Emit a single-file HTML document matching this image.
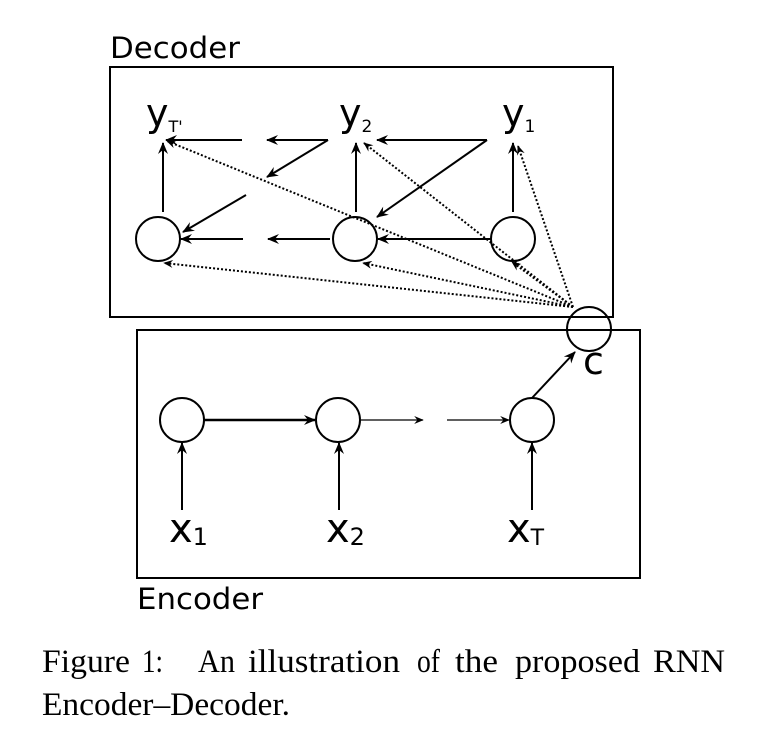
<!DOCTYPE html>
<html><head><meta charset="utf-8"><style>
html,body{margin:0;padding:0;background:#fff}
svg{display:block}
text{font-family:"DejaVu Sans","Liberation Sans",sans-serif;fill:#000}
.cap{font-family:"Liberation Serif",serif}
</style></head><body>
<svg width="762" height="742" viewBox="0 0 762 742" xmlns="http://www.w3.org/2000/svg">
<defs>
<marker id="ah" viewBox="0 0 12 10" refX="11" refY="5" markerWidth="12" markerHeight="10" markerUnits="userSpaceOnUse" orient="auto"><path d="M0,0 L12,5 L0,10 L4,5 Z" fill="#000"/></marker>
<marker id="ahs" viewBox="0 0 12 10" refX="11" refY="5" markerWidth="10" markerHeight="8" markerUnits="userSpaceOnUse" orient="auto"><path d="M0,0 L12,5 L0,10 L4,5 Z" fill="#000"/></marker>
</defs>

<!-- Decoder -->
<text x="110" y="58" font-size="29" textLength="130" lengthAdjust="spacingAndGlyphs">Decoder</text>
<rect x="110" y="67" width="503" height="250" fill="none" stroke="#000" stroke-width="2"/>

<text x="146" y="126" font-size="38">y<tspan font-size="16" dy="6">T'</tspan></text>
<text x="339" y="126" font-size="38">y<tspan font-size="17" dy="6">2</tspan></text>
<text x="502" y="126" font-size="38">y<tspan font-size="17" dy="6">1</tspan></text>

<g stroke="#000" stroke-width="2" fill="none">
<line x1="242" y1="140" x2="166" y2="140" marker-end="url(#ah)"/>
<line x1="328" y1="140" x2="267" y2="140" marker-end="url(#ah)"/>
<line x1="487" y1="140" x2="377" y2="140" marker-end="url(#ah)"/>
<line x1="163" y1="212" x2="163" y2="143" marker-end="url(#ah)"/>
<line x1="356" y1="212" x2="356" y2="143" marker-end="url(#ah)"/>
<line x1="513" y1="212" x2="513" y2="143" marker-end="url(#ah)"/>
<line x1="328" y1="140" x2="267" y2="177" marker-end="url(#ah)"/>
<line x1="246" y1="195" x2="183" y2="232" marker-end="url(#ah)"/>
<line x1="487" y1="140" x2="377" y2="217" marker-end="url(#ah)"/>
<line x1="243" y1="239" x2="181" y2="239" marker-end="url(#ah)"/>
<line x1="330" y1="239" x2="268" y2="239" marker-end="url(#ah)"/>
<line x1="491" y1="239" x2="378" y2="239" marker-end="url(#ah)"/>
</g>
<g fill="#fff" stroke="#000" stroke-width="2">
<circle cx="158" cy="239" r="22"/>
<circle cx="355" cy="239" r="22"/>
<circle cx="513" cy="239" r="22"/>
</g>
<g stroke="#000" stroke-width="2" stroke-dasharray="2,2" fill="none">
<line x1="573" y1="307" x2="167" y2="141" marker-end="url(#ahs)"/>
<line x1="573" y1="307" x2="364" y2="143" marker-end="url(#ahs)"/>
<line x1="573" y1="307" x2="518" y2="146" marker-end="url(#ahs)"/>
<line x1="573" y1="307" x2="164" y2="263" marker-end="url(#ahs)"/>
<line x1="573" y1="307" x2="363" y2="263" marker-end="url(#ahs)"/>
<line x1="573" y1="307" x2="512" y2="262" marker-end="url(#ahs)"/>
</g>

<!-- Encoder -->
<rect x="137" y="330" width="503" height="248" fill="none" stroke="#000" stroke-width="2"/>
<text x="137" y="609" font-size="29" textLength="126" lengthAdjust="spacingAndGlyphs">Encoder</text>

<g stroke="#000" fill="none">
<line x1="204" y1="420" x2="315" y2="420" stroke-width="2.5" marker-end="url(#ah)"/>
<line x1="361" y1="420" x2="423" y2="420" stroke-width="1.3" marker-end="url(#ahs)"/>
<line x1="447" y1="420" x2="509" y2="420" stroke-width="1.3" marker-end="url(#ahs)"/>
<line x1="532" y1="398" x2="575" y2="352" stroke-width="2" marker-end="url(#ah)"/>
<line x1="182" y1="510" x2="182" y2="443" stroke-width="2" marker-end="url(#ah)"/>
<line x1="339" y1="510" x2="339" y2="443" stroke-width="2" marker-end="url(#ah)"/>
<line x1="532" y1="510" x2="532" y2="443" stroke-width="2" marker-end="url(#ah)"/>
</g>
<g fill="#fff" stroke="#000" stroke-width="2">
<circle cx="182" cy="420" r="22"/>
<circle cx="338" cy="420" r="22"/>
<circle cx="532" cy="420" r="22"/>
</g>
<text x="169" y="542" font-size="40">x<tspan font-size="24" dy="3">1</tspan></text>
<text x="326" y="542" font-size="40">x<tspan font-size="24" dy="3">2</tspan></text>
<text x="507" y="542" font-size="40">x<tspan font-size="22" dy="3">T</tspan></text>

<!-- context c -->
<circle cx="589" cy="329" r="22" fill="none" stroke="#000" stroke-width="2"/>
<text x="583" y="374" font-size="38">c</text>

<!-- caption -->
<g class="cap" font-size="33">
<text class="cap" x="42" y="672" textLength="88" lengthAdjust="spacingAndGlyphs">Figure</text>
<text class="cap" x="142" y="672" textLength="21" lengthAdjust="spacingAndGlyphs">1:</text>
<text class="cap" x="198" y="672" textLength="37" lengthAdjust="spacingAndGlyphs">An</text>
<text class="cap" x="248" y="672" textLength="152" lengthAdjust="spacingAndGlyphs">illustration</text>
<text class="cap" x="417" y="672" textLength="23" lengthAdjust="spacingAndGlyphs">of</text>
<text class="cap" x="455" y="672" textLength="43" lengthAdjust="spacingAndGlyphs">the</text>
<text class="cap" x="515" y="672" textLength="125" lengthAdjust="spacingAndGlyphs">proposed</text>
<text class="cap" x="653" y="672" textLength="72" lengthAdjust="spacingAndGlyphs">RNN</text>
</g>
<text class="cap" x="42" y="715" font-size="33" textLength="248" lengthAdjust="spacingAndGlyphs">Encoder–Decoder.</text>
</svg>
</body></html>
